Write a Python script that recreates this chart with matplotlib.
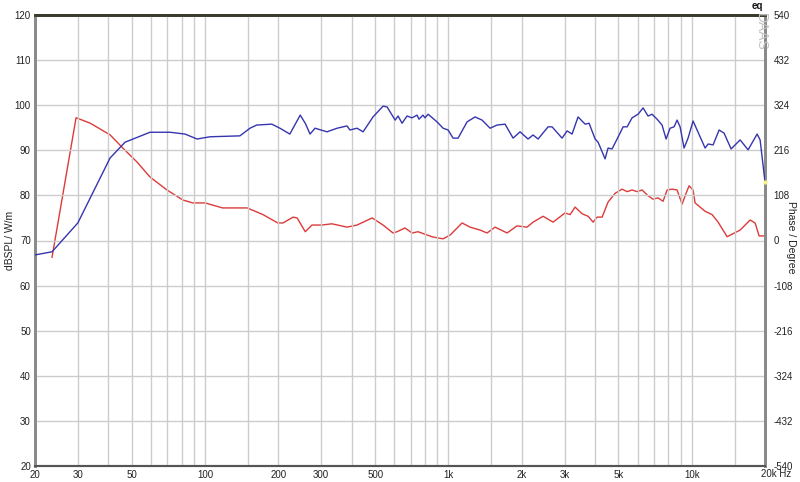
import matplotlib
matplotlib.use("Agg")
import matplotlib.pyplot as plt

# magnitude (blue, left axis dB)
mag_freq = [20, 23.5, 30, 40.7, 46.9, 59.4, 71.8, 82.7, 92.7, 104.8,
            139, 153, 163, 188, 203, 223, 246, 258, 270, 283,
            317, 349, 383, 394, 421, 446, 490, 539, 560, 604,
            621, 645, 676, 709, 743, 757, 786, 801, 825, 898,
            951, 997, 1045, 1096, 1193, 1287, 1375, 1483, 1585, 1709,
            1844, 1970, 2124, 2228, 2336, 2568, 2667, 2931, 3074, 3222,
            3410, 3645, 3785, 4008, 4122, 4404, 4530, 4705, 4934, 5224,
            5424, 5686, 6018, 6310, 6614, 6870, 7202, 7552, 7844, 8146,
            8460, 8704, 8956, 9298, 9658, 10126, 10518, 11348, 11674, 12238,
            12954, 13582, 14512, 15804, 17044, 18560, 19096, 20000]
mag_db = [66.8, 67.5, 73.9, 88.3, 91.8, 94.0, 94.0, 93.6, 92.5, 93.0,
          93.2, 94.9, 95.6, 95.8, 94.9, 93.6, 97.8, 96.0, 93.6, 94.9,
          94.1, 94.9, 95.4, 94.5, 94.9, 94.1, 97.4, 99.8, 99.6, 96.7,
          97.6, 96.0, 97.6, 97.2, 97.8, 96.9, 97.8, 97.2, 98.0, 96.3,
          94.9, 94.5, 92.7, 92.7, 96.3, 97.4, 96.7, 94.9, 95.6, 95.8,
          92.7, 94.1, 92.5, 93.4, 92.5, 95.2, 95.2, 92.7, 94.3, 93.6,
          97.4, 95.8, 96.0, 92.5, 91.8, 88.1, 90.5, 90.3, 92.5, 95.2,
          95.2, 97.2, 98.0, 99.4, 97.6, 98.0, 96.9, 95.6, 92.5, 94.9,
          95.2, 96.7, 95.2, 90.5, 92.7, 96.5, 94.5, 90.5, 91.4, 91.2,
          94.5, 93.8, 90.3, 92.3, 90.1, 93.6, 92.3, 83.0]

# phase (red, right axis degrees)
ph_freq = [23.5, 29.5, 33.7, 40.7, 46, 52.5, 59.4, 69.7, 81, 89,
           100, 118, 149, 173, 199, 209, 230, 239, 258, 275,
           302, 332, 383, 421, 486, 539, 592, 615, 663, 709,
           750, 801, 856, 907, 951, 1016, 1138, 1227, 1349, 1442,
           1555, 1742, 1914, 2104, 2228, 2449, 2692, 3016, 3162, 3316,
           3542, 3750, 3932, 4084, 4282, 4530, 4842, 5174, 5424, 5686,
           5962, 6250, 6614, 6934, 7270, 7624, 7918, 8302, 8704, 9126,
           9476, 9750, 10126, 10320, 11348, 12124, 12832, 13974, 15804, 17372,
           18212, 18916, 20000]
ph_deg = [-40, 294, 281, 253, 221, 188, 152, 121, 97, 90,
          90, 78, 78, 62, 42, 42, 56, 54, 21, 37,
          37, 40, 32, 37, 54, 37, 18, 21, 30, 18,
          21, 15, 9, 6, 4, 13, 42, 32, 25, 18,
          32, 18, 35, 32, 44, 58, 44, 66, 62, 80,
          64, 58, 44, 56, 56, 92, 113, 123, 117, 121,
          117, 121, 107, 99, 102, 94, 121, 123, 121, 87,
          113, 131, 121, 90, 70, 62, 44, 9, 25, 49,
          42, 11, 11]

major_x = [20, 30, 50, 100, 200, 300, 500, 1000, 2000, 3000, 5000, 10000]
major_lbl = ["20", "30", "50", "100", "200", "300", "500", "1k", "2k", "3k", "5k", "10k"]
grid_x = [30, 40, 50, 60, 70, 80, 90, 100, 150, 200, 300, 400, 500, 600, 700, 800, 900,
          1000, 1500, 2000, 3000, 4000, 5000, 6000, 7000, 8000, 9000, 10000, 15000]

plt.rcParams['font.family'] = ['Liberation Sans', 'DejaVu Sans']
plt.rcParams['axes.unicode_minus'] = False

fig = plt.figure(figsize=(8, 4.82), dpi=100)
ax = fig.add_axes([35/800, 16/482, 730/800, 451/482])
ax2 = ax.twinx()

ax.set_xscale('log')
ax.set_xlim(20, 20000)
ax.set_ylim(20, 120)
ax.set_yticks(range(20, 121, 10))
ax.set_xticks(major_x)
ax.set_xticklabels(major_lbl)
ax.set_xticks(grid_x, minor=True)
ax.xaxis.set_minor_formatter(plt.NullFormatter())
ax.grid(True, which='both', color='#cccccc', lw=1)
ax.set_axisbelow(True)
ax.tick_params(axis='both', which='both', length=0, labelsize=7, colors='#222222', pad=3)

ax2.set_ylim(-540, 540)
ax2.set_yticks(range(-540, 541, 108))
ax2.tick_params(axis='y', length=0, labelsize=7, colors='#222222', pad=6)

ax2.plot(ph_freq, ph_deg, color='#dd3a3a', lw=1)
ax.plot(mag_freq, mag_db, color='#3535b0', lw=1, zorder=3)
ax.plot([mag_freq[-1]], [mag_db[-1]], 's', color='#f4f08a', ms=3, mec='none', zorder=4, clip_on=False)
ax.set_zorder(ax2.get_zorder() + 1)
ax.patch.set_visible(False)

for a in (ax, ax2):
    a.spines['top'].set_color('#3a3a2a')
    a.spines['top'].set_linewidth(2)
    a.spines['left'].set_color('#8a8a8a')
    a.spines['left'].set_linewidth(2)
    a.spines['right'].set_color('#8a8a8a')
    a.spines['right'].set_linewidth(2)
    a.spines['bottom'].set_color('#555555')
    a.spines['bottom'].set_linewidth(1.5)

fig.text(10/800, 1 - 240/482, "dBSPL/ W/m", fontsize=7.5, color='#222222',
         rotation=90, va='center', ha='center')
fig.text(791/800, 1 - 237/482, "Phase / Degree", fontsize=7.5, color='#222222',
         rotation=270, va='center', ha='center')

fig.text(761/800, 1 - 474/482, "20k Hz", fontsize=7, color='#222222', va='center', ha='left')
fig.text(763/800, 1 - 6/482, "eq", fontsize=7, fontweight='bold', color='#111111', va='center', ha='right')
fig.text(761/800, 1 - 32/482, "DAAS", fontsize=10, color='#c4c4c4', rotation=270, va='center', ha='center')

fig.savefig("out.png", dpi=100)
